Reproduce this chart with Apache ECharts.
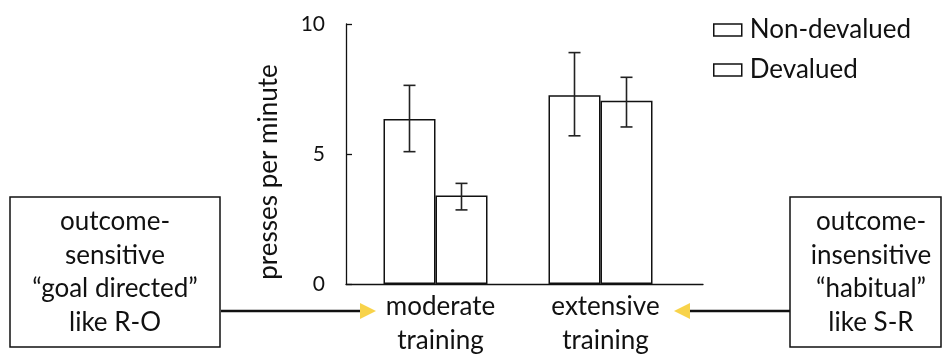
<!DOCTYPE html>
<html>
<head>
<meta charset="utf-8">
<script src="https://cdn.jsdelivr.net/npm/echarts@6/dist/echarts.min.js"></script>
<style>html,body{margin:0;padding:0;background:#fff;}#c{width:942px;height:354px;}</style>
</head>
<body>
<div id="c"></div>
<script>
// ---- data ----
const categories = ['moderate\ntraining', 'extensive\ntraining'];
const seriesNames = ['Non-devalued', 'Devalued'];
const nonDevalued = [6.35, 7.26];
const devalued = [3.40, 7.05];
const nonDevaluedErrLow = [5.09, 5.70];
const nonDevaluedErrHigh = [7.64, 8.90];
const devaluedErrLow = [2.85, 6.04];
const devaluedErrHigh = [3.87, 7.95];
const yMin = 0, yMax = 10, yInterval = 5;
const yAxisName = 'presses per minute';
const leftBoxText = 'outcome-\nsensitive\n\u201cgoal directed\u201d\nlike R-O';
const rightBoxText = 'outcome-\ninsensitive\n\u201chabitual\u201d\nlike S-R';

// ---- style ----
const FONT = 'Lato';
const BAR_W = 52;
const INK = '#111';
const ARROW = '#F8D34A';

function errData(low, high) {
  return categories.map((c, i) => [i, low[i], high[i]]);
}
function errSeries(low, high, offset) {
  return {
    type: 'custom',
    xAxisIndex: 0, yAxisIndex: 0,
    z: 5,
    silent: true,
    encode: { x: 0, y: [1, 2] },
    data: errData(low, high),
    renderItem: function (params, api) {
      const lo = api.coord([api.value(0), api.value(1)]);
      const hi = api.coord([api.value(0), api.value(2)]);
      const x = lo[0] + offset;
      const cap = 6;
      const st = { stroke: '#222', lineWidth: 1.6 };
      return {
        type: 'group',
        children: [
          { type: 'line', shape: { x1: x, y1: lo[1], x2: x, y2: hi[1] }, style: st },
          { type: 'line', shape: { x1: x - cap, y1: lo[1], x2: x + cap, y2: lo[1] }, style: st },
          { type: 'line', shape: { x1: x - cap, y1: hi[1], x2: x + cap, y2: hi[1] }, style: st }
        ]
      };
    }
  };
}

const chart = echarts.init(document.getElementById('c'));
chart.setOption({
  animation: false,
  backgroundColor: '#fff',
  textStyle: { fontFamily: FONT, color: INK },
  legend: {
    data: seriesNames,
    orient: 'vertical',
    left: 708, top: 12,
    itemWidth: 28, itemHeight: 12,
    itemGap: 14,
    icon: 'rect',
    itemStyle: { color: '#fff', borderColor: INK, borderWidth: 1.5 },
    textStyle: { fontFamily: FONT, fontSize: 26, color: INK, padding: [0, 0, 0, 3] }
  },
  grid: [
    { left: 353, width: 330, top: 24, height: 260, outerBoundsMode: 'none', containLabel: false },
    { left: 346, width: 357, top: 24, height: 260, outerBoundsMode: 'none', containLabel: false }
  ],
  xAxis: [
    {
      type: 'category', gridIndex: 0, data: categories,
      axisLine: { show: false }, axisTick: { show: false },
      axisLabel: { fontFamily: FONT, fontSize: 26, lineHeight: 34, color: INK, margin: 6, padding: [0, 0, 0, 10] }
    },
    {
      type: 'value', gridIndex: 1, min: 0, max: 1,
      axisLine: { show: true, lineStyle: { color: INK, width: 1.3 } },
      axisTick: { show: false }, axisLabel: { show: false }, splitLine: { show: false }
    }
  ],
  yAxis: [
    {
      type: 'value', gridIndex: 0, min: yMin, max: yMax, interval: yInterval,
      offset: 7,
      name: yAxisName, nameLocation: 'middle', nameGap: 64, nameRotate: 90,
      nameTextStyle: { fontFamily: FONT, fontSize: 26, color: INK, padding: [0, 36, 0, 0] },
      axisLine: { show: true, lineStyle: { color: INK, width: 1.3 } },
      axisTick: { show: true, inside: true, length: 6, lineStyle: { color: INK, width: 1.3 } },
      axisLabel: { fontFamily: FONT, fontSize: 21, color: INK, margin: 21, padding: [0, 0, 8, 0] },
      splitLine: { show: false }
    },
    {
      type: 'value', gridIndex: 1, show: false
    }
  ],
  series: [
    {
      name: seriesNames[0], type: 'bar', xAxisIndex: 0, yAxisIndex: 0,
      data: nonDevalued, barWidth: BAR_W, barGap: '0%',
      itemStyle: { color: '#fff', borderColor: INK, borderWidth: 1.5 }
    },
    {
      name: seriesNames[1], type: 'bar', xAxisIndex: 0, yAxisIndex: 0,
      data: devalued, barWidth: BAR_W, barGap: '0%',
      itemStyle: { color: '#fff', borderColor: INK, borderWidth: 1.5 }
    },
    errSeries(nonDevaluedErrLow, nonDevaluedErrHigh, -BAR_W / 2),
    errSeries(devaluedErrLow, devaluedErrHigh, BAR_W / 2)
  ],
  graphic: [
    { type: 'rect', shape: { x: 10, y: 197, width: 210, height: 150 },
      style: { fill: '#fff', stroke: INK, lineWidth: 1.5 } },
    { type: 'text', x: 115, y: 272,
      style: { text: leftBoxText, font: '26px ' + FONT, fill: INK, align: 'center', verticalAlign: 'middle', lineHeight: 33.5 } },
    { type: 'rect', shape: { x: 790, y: 197, width: 151, height: 150 },
      style: { fill: '#fff', stroke: INK, lineWidth: 1.5 } },
    { type: 'text', x: 871, y: 272,
      style: { text: rightBoxText, font: '26px ' + FONT, fill: INK, align: 'center', verticalAlign: 'middle', lineHeight: 33.5 } },
    { type: 'line', shape: { x1: 221, y1: 311, x2: 362, y2: 311 }, style: { stroke: INK, lineWidth: 2.5 } },
    { type: 'polygon', shape: { points: [[360, 303], [376, 311], [360, 319]] }, style: { fill: ARROW } },
    { type: 'line', shape: { x1: 688, y1: 311, x2: 790, y2: 311 }, style: { stroke: INK, lineWidth: 2.5 } },
    { type: 'polygon', shape: { points: [[690, 303], [674, 311], [690, 319]] }, style: { fill: ARROW } }
  ]
});
</script>
</body>
</html>
